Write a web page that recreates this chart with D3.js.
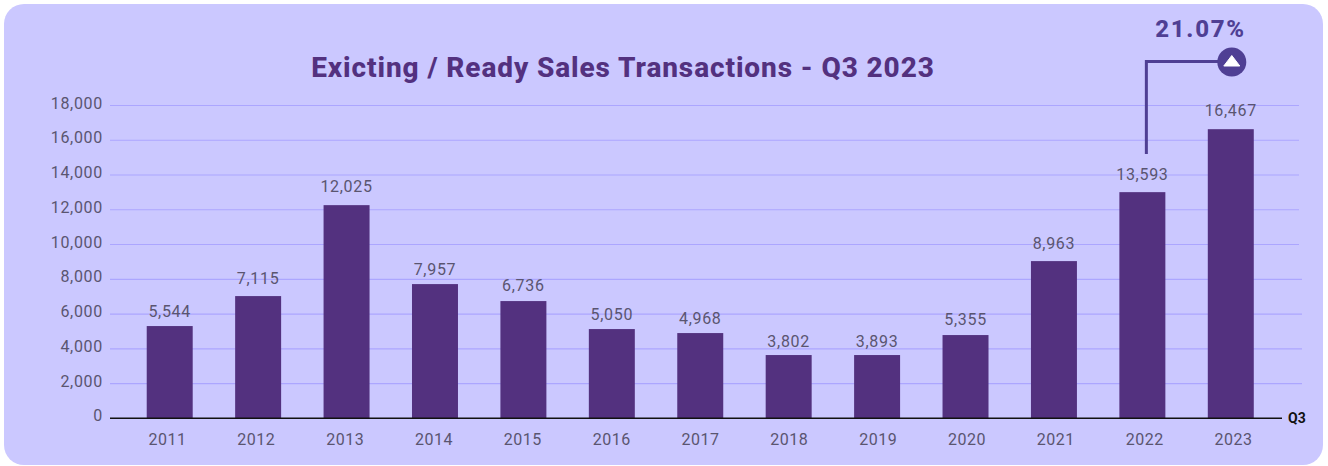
<!DOCTYPE html>
<html><head><meta charset="utf-8">
<script src="https://cdnjs.cloudflare.com/ajax/libs/d3/7.8.5/d3.min.js"></script>
<style>html,body{margin:0;padding:0;background:#fff}svg{display:block}text{font-family:Roboto,sans-serif}</style>
</head><body><svg id="c" width="1328" height="466"></svg>
<script>
const years=["2011","2012","2013","2014","2015","2016","2017","2018","2019","2020","2021","2022","2023"];
// heights of the bars as drawn in the picture
const barValues=[5308,7033,12266,7723,6746,5135,4905,3640,3640,4790,9046,13014,16637];
// printed labels (they differ from the drawn bars in the original)
const barLabels=["5,544","7,115","12,025","7,957","6,736","5,050","4,968","3,802","3,893","5,355","8,963","13,593","16,467"];
// level on the value axis at which each printed label sits in the picture
const labelLevels=[6170,8067,13357,8585,7665,5997,5767,4445,4445,5710,10080,14047,17727];
const yTicks=[0,2000,4000,6000,8000,10000,12000,14000,16000,18000];
const titleText="Exicting / Ready Sales Transactions - Q3 2023";
const changeText="21.07%";
const periodText="Q3";

const purple="#53317f",accent="#4f3f94",grey="#5a5570";
const svg=d3.select("#c");
svg.append("rect").attr("x",4).attr("y",4).attr("width",1319).attr("height",461).attr("rx",20).attr("fill","#cbc8ff");

const x=d3.scaleBand().domain(years).range([125.5,1275]).paddingInner(.48).paddingOuter(.24);
const xLabels=d3.scalePoint().domain(years).range([167,1233]);
const y=d3.scaleLinear().domain([0,18000]).range([418.3,105.5]);
const cx=d=>x(d)+x.bandwidth()/2;

// grid
const yAxis=d3.axisLeft(y).tickValues(yTicks).tickFormat(d3.format(",")).tickSize(0).tickPadding(7);
const gy=svg.append("g").attr("transform","translate(110,0)").call(yAxis);
gy.select(".domain").remove();
gy.selectAll("text").attr("font-size",16).attr("letter-spacing",".7").attr("fill",grey).style("font-family","Roboto").attr("dy",null).attr("y",2.5);
svg.append("g").selectAll("line").data(yTicks.filter(d=>d>0)).join("line")
  .attr("x1",110).attr("x2",d=>d<=8000?1302:1299).attr("y1",d=>y(d)).attr("y2",d=>y(d))
  .attr("stroke","#aca6ff").attr("stroke-width",1.2);

// bars
svg.append("g").selectAll("rect").data(years).join("rect")
  .attr("x",d=>x(d)).attr("width",x.bandwidth())
  .attr("y",(d,i)=>y(barValues[i])).attr("height",(d,i)=>y(0)-y(barValues[i])).attr("fill",purple);

// baseline
svg.append("line").attr("x1",110).attr("x2",1282).attr("y1",y(0)).attr("y2",y(0)).attr("stroke","#111").attr("stroke-width",1.4);

// labels
svg.append("g").selectAll("text").data(years).join("text")
  .attr("x",d=>cx(d)).attr("y",(d,i)=>y(labelLevels[i])+6)
  .attr("text-anchor","middle").attr("font-size",16).attr("letter-spacing",".7").attr("fill",grey)
  .text((d,i)=>barLabels[i]);

// x axis
const gx=svg.append("g").attr("transform","translate(0,418)").call(d3.axisBottom(xLabels).tickSize(0).tickPadding(0));
gx.select(".domain").remove();
gx.selectAll("text").attr("font-size",16).attr("letter-spacing",".5").attr("fill",grey).style("font-family","Roboto").attr("dy",null).attr("y",27);

svg.append("text").attr("x",1288).attr("y",423).attr("font-size",14).attr("font-weight",700).attr("fill","#111").text(periodText);

svg.append("text").attr("x",623).attr("y",77).attr("text-anchor","middle").attr("font-size",28).attr("font-weight",800).attr("letter-spacing",".9").attr("fill",purple).text(titleText);

// change annotation
const ax=cx("2022")+4,bx=cx("2023")+1;
svg.append("path").attr("d",`M${ax},154V61.5H${bx}`).attr("fill","none").attr("stroke",accent).attr("stroke-width",3);
svg.append("circle").attr("cx",bx).attr("cy",62).attr("r",14.5).attr("fill",accent);
svg.append("path").attr("d",`M${bx},55.5L${bx+8},66H${bx-8}Z`).attr("fill","#fff").attr("stroke","#fff").attr("stroke-width",1).attr("stroke-linejoin","round");
svg.append("text").attr("x",1200.5).attr("y",37).attr("text-anchor","middle").attr("font-size",24).attr("font-weight",800).attr("letter-spacing","1.7").attr("fill",accent).text(changeText);
</script></body></html>
